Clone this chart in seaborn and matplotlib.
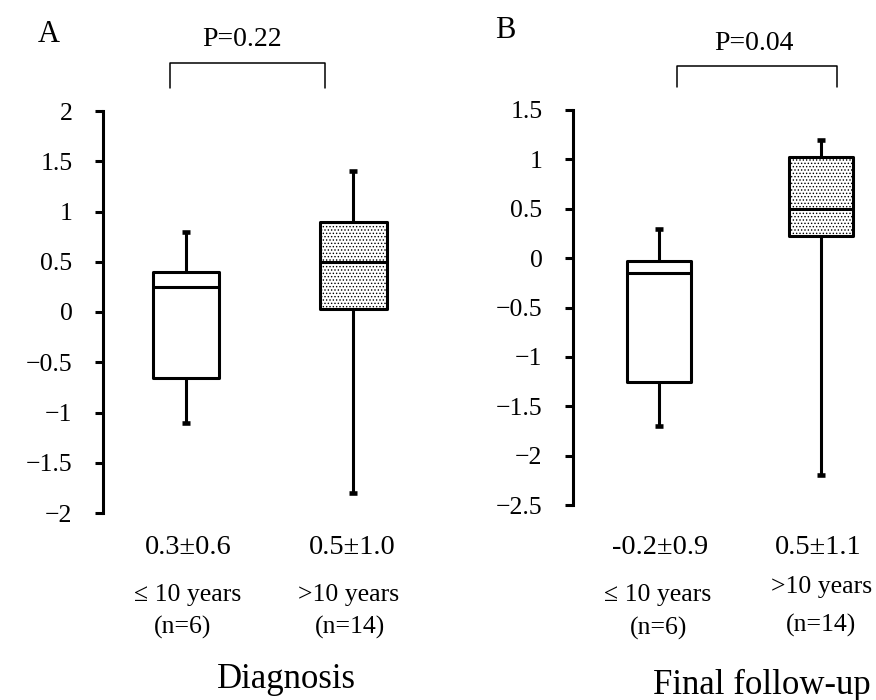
import numpy as np
import pandas as pd
import seaborn as sns
import matplotlib.pyplot as plt
from matplotlib.ticker import FuncFormatter, MultipleLocator

groups = ["≤ 10 years", ">10 years"]
group_n = ["(n=6)", "(n=14)"]
# five-number summaries: min, q1, median, q3, max
diag_short = [-1.1, -0.66, 0.25, 0.4, 0.8]
diag_long = [-1.8, 0.03, 0.5, 0.9, 1.4]
final_short = [-1.7, -1.25, -0.15, -0.03, 0.3]
final_long = [-2.2, 0.22, 0.5, 1.02, 1.2]
diag_stats = ["0.3±0.6", "0.5±1.0"]
final_stats = ["-0.2±0.9", "0.5±1.1"]
p_values = ["P=0.22", "P=0.04"]

sns.set_style("white")
plt.rcParams["font.family"] = ["Liberation Serif", "DejaVu Serif"]
plt.rcParams["text.color"] = "black"
plt.rcParams["axes.edgecolor"] = "black"
plt.rcParams["ytick.color"] = "black"
plt.rcParams["ytick.left"] = True
plt.rcParams["hatch.linewidth"] = 0.6
plt.rcParams["hatch.color"] = "black"

lw = 2.2


def make_df(short, long):
    return pd.DataFrame({
        "group": [groups[0]] * len(short) + [groups[1]] * len(long),
        "value": short + long,
    })


def draw_panel(ax, df, ylim, xlim):
    sns.boxplot(data=df, x="group", y="value", ax=ax, whis=(0, 100),
                width=0.4, color="white", linecolor="black", linewidth=lw,
                saturation=1, capprops=dict(gid="cap"))
    ax.patches[1].set_hatch(".....")
    for p in ax.patches:
        p.set_joinstyle("round")
    for ln in ax.lines:
        if ln.get_gid() == "cap":
            x = np.asarray(ln.get_xdata(), dtype=float)
            c = x.mean()
            ln.set_xdata([c - 0.022, c + 0.022])
            ln.set_linewidth(lw * 1.5)
            ln.set_solid_capstyle("butt")
    ax.set_ylim(ylim)
    ax.set_xlim(xlim)
    ax.yaxis.set_major_locator(MultipleLocator(0.5))
    ax.yaxis.set_major_formatter(FuncFormatter(lambda v, p: f"{v:g}".replace("-", "\u2212")))
    for s in ["top", "right", "bottom"]:
        ax.spines[s].set_visible(False)
    ax.spines["left"].set_linewidth(lw)
    ax.tick_params(axis="y", left=True, direction="out", length=6, width=lw,
                   labelsize=18.5, pad=16, colors="black")
    ax.tick_params(axis="x", length=0, labelbottom=False)
    ax.set_xlabel("")
    ax.set_ylabel("")


fig = plt.figure(figsize=(8.76, 7), dpi=100)
axA = fig.add_axes([103 / 876, 1 - 513 / 700, 337 / 876, 402 / 700])
axB = fig.add_axes([573 / 876, 1 - 505 / 700, 303 / 876, 395 / 700])

draw_panel(axA, make_df(diag_short, diag_long), (-2, 2), (-0.497, 1.52))
draw_panel(axB, make_df(final_short, final_long), (-2.5, 1.5), (-0.531, 1.34))

# significance brackets
axA.plot([-0.096, -0.096, 0.832, 0.832], [2.23, 2.48, 2.48, 2.23],
         color="black", lw=1.1, clip_on=False)
axB.plot([0.111, 0.111, 1.099, 1.099], [1.73, 1.95, 1.95, 1.73],
         color="black", lw=1.1, clip_on=False)


def ftext(x, y, s, size=18):
    fig.text(x / 876, 1 - y / 700, s, ha="center", va="center", fontsize=size)


ftext(49, 34, "A", 22)
ftext(505, 31, "B", 22)
ftext(242, 40, p_values[0], 20)
ftext(754, 43, p_values[1], 20)

ftext(188, 548, diag_stats[0], 20.5)
ftext(352, 548, diag_stats[1], 20.5)
ftext(188, 595, groups[0], 18.5)
ftext(183, 627, group_n[0], 18.5)
ftext(349, 595, groups[1], 18.5)
ftext(350, 627, group_n[1], 18.5)
ftext(286, 680, "Diagnosis", 25)

ftext(660, 548, final_stats[0], 20.5)
ftext(818, 548, final_stats[1], 20.5)
ftext(658, 595, groups[0], 18.5)
ftext(659, 628, group_n[0], 18.5)
ftext(822, 587, groups[1], 18.5)
ftext(821, 625, group_n[1], 18.5)
ftext(762, 685, "Final follow-up", 25)

plt.savefig("out.png", dpi=100)
